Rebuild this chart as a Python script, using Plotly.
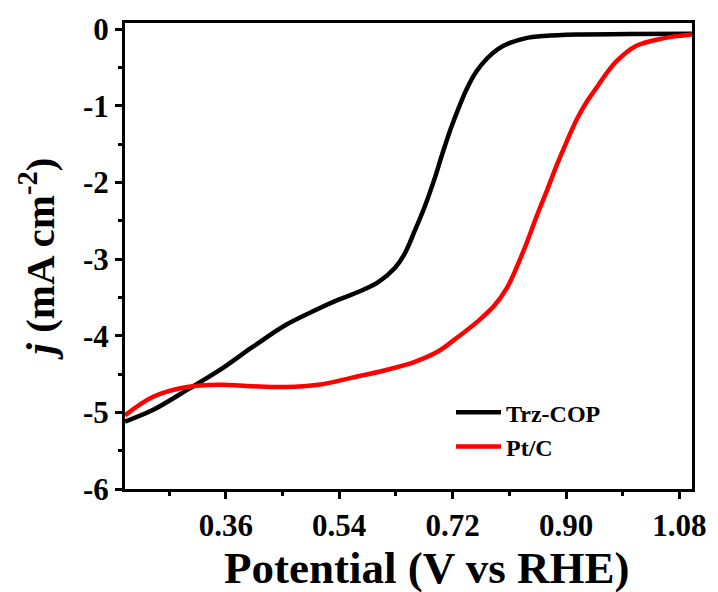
import plotly.graph_objects as go

trz_x = [0.200, 0.244, 0.298, 0.350, 0.402, 0.455, 0.496, 0.539, 0.570, 0.602, 0.628, 0.644,
         0.660, 0.676, 0.691, 0.704, 0.717, 0.730, 0.743, 0.758, 0.775, 0.792, 0.811, 0.835,
         0.865, 0.917, 1.000, 1.100]
trz_y = [-5.12, -4.97, -4.71, -4.45, -4.15, -3.86, -3.69, -3.53, -3.43, -3.30, -3.12, -2.93,
         -2.63, -2.31, -1.96, -1.62, -1.30, -1.02, -0.77, -0.55, -0.38, -0.26, -0.18, -0.12,
         -0.09, -0.07, -0.065, -0.06]

ptc_x = [0.200, 0.244, 0.298, 0.350, 0.402, 0.455, 0.507, 0.559, 0.613, 0.660, 0.696, 0.728,
         0.759, 0.786, 0.806, 0.822, 0.838, 0.854, 0.870, 0.885, 0.901, 0.917, 0.932, 0.948,
         0.964, 0.980, 1.011, 1.054, 1.100]
ptc_y = [-5.04, -4.80, -4.67, -4.64, -4.66, -4.67, -4.64, -4.55, -4.45, -4.34, -4.21, -4.02,
         -3.82, -3.61, -3.38, -3.10, -2.78, -2.43, -2.10, -1.78, -1.47, -1.18, -0.96, -0.77,
         -0.58, -0.42, -0.22, -0.12, -0.07]

x_ticks = [0.36, 0.54, 0.72, 0.90, 1.08]
x_tick_labels = ["0.36", "0.54", "0.72", "0.90", "1.08"]
y_ticks = [0, -1, -2, -3, -4, -5, -6]
y_tick_labels = ["0", "-1", "-2", "-3", "-4", "-5", "-6"]

FONT = "Times New Roman, Liberation Serif, serif"

fig = go.Figure()
fig.add_trace(go.Scatter(x=trz_x, y=trz_y, mode="lines", name="<b>Trz-COP</b>",
                         line=dict(color="black", width=4.5, shape="spline", smoothing=1.0)))
fig.add_trace(go.Scatter(x=ptc_x, y=ptc_y, mode="lines", name="<b>Pt/C</b>",
                         line=dict(color="#ff0000", width=4.5, shape="spline", smoothing=1.0)))

axis_common = dict(showline=True, linecolor="black", linewidth=3, mirror=True,
                   ticks="outside", ticklen=7, tickwidth=3, tickcolor="black",
                   showgrid=False, zeroline=False,
                   tickfont=dict(family=FONT, size=31, color="black"))

fig.update_xaxes(range=[0.2, 1.1], tickvals=x_ticks,
                 ticktext=["<b>%s</b>" % t for t in x_tick_labels],
                 minor=dict(tickvals=[0.27, 0.45, 0.63, 0.81, 0.99], ticklen=4, tickwidth=3,
                            ticks="outside", tickcolor="black"),
                 **axis_common)
fig.update_yaxes(range=[-6, 0.08], tickvals=y_ticks,
                 ticktext=["<b>%s</b>" % t for t in y_tick_labels],
                 minor=dict(tickvals=[-0.5, -1.5, -2.5, -3.5, -4.5, -5.5], ticklen=4, tickwidth=3,
                            ticks="outside", tickcolor="black"),
                 title=dict(text="<b><i>j</i> (mA cm<sup>-2</sup>)</b>",
                            font=dict(family=FONT, size=41, color="black"), standoff=16),
                 **axis_common)

fig.add_annotation(text="<b>Potential (V vs RHE)</b>", xref="paper", yref="paper",
                   x=0.532, y=-0.169, xanchor="center", yanchor="middle", showarrow=False,
                   font=dict(family=FONT, size=45, color="black"))

fig.update_layout(
    width=718, height=592,
    margin=dict(l=125, r=22, t=22, b=103),
    paper_bgcolor="white", plot_bgcolor="white",
    font=dict(family=FONT, color="black"),
    legend=dict(x=0.575, y=0.212, xanchor="left", yanchor="top",
                font=dict(family=FONT, size=24, color="black"),
                bgcolor="rgba(0,0,0,0)", itemwidth=45, tracegroupgap=0),
)

fig.write_html("out.html")
